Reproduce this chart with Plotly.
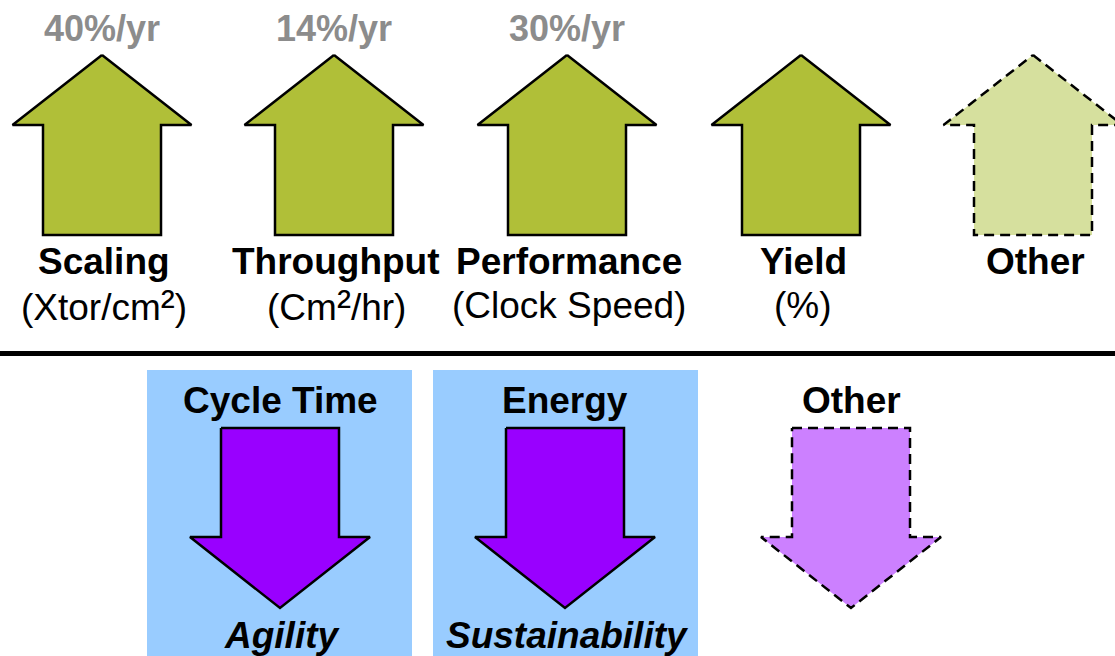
import plotly.graph_objects as go

# ---- content ----
SQ = "<span style='font-size:42px'>²</span>"
up_labels = ["Scaling", "Throughput", "Performance", "Yield", "Other"]
up_units = ["(Xtor/cm" + SQ + ")", "(Cm" + SQ + "/hr)", "(Clock Speed)", "(%)", ""]
up_rates = ["40%/yr", "14%/yr", "30%/yr", "", ""]
up_dashed = [False, False, False, False, True]
down_titles = ["Cycle Time", "Energy", "Other"]
down_goals = ["Agility", "Sustainability", ""]
down_dashed = [False, False, True]

# ---- layout geometry (pixels) ----
W, H = 1115, 656
up_cx = [102, 334, 567, 801, 1033]
down_cx = [280, 565, 851]
box_x = [(147, 412), (433, 698)]

FONT = "Liberation Sans, Arial, sans-serif"
GREEN = "#B0BF38"
LGREEN = "#D6E09E"
PURPLE = "#9900FF"
LPURPLE = "#CC80FF"
BLUE = "#99CCFF"
DASH = "10px,6px"
FS = 37

fig = go.Figure()

# blue boxes
for (x0, x1) in box_x:
    fig.add_shape(type="rect", x0=x0, x1=x1, y0=370, y1=H + 5, xref="x", yref="y",
                  fillcolor=BLUE, line=dict(width=0), layer="below")

# divider line
fig.add_shape(type="line", x0=0, x1=W, y0=353.5, y1=353.5, xref="x", yref="y",
              line=dict(color="black", width=5))


def up_arrow(cx, tip=55, base=125, bottom=235, hh=89.5, sh=59):
    xs = [cx, cx + hh, cx + sh, cx + sh, cx - sh, cx - sh, cx - hh, cx]
    ys = [tip, base, base, bottom, bottom, base, base, tip]
    return xs, ys


def down_arrow(cx, sh=59, hh=90, top=428, base=537, tip=608):
    xs = [cx - sh, cx + sh, cx + sh, cx + hh, cx, cx - hh, cx - sh, cx - sh]
    ys = [top, top, base, base, tip, base, base, top]
    return xs, ys


for i, cx in enumerate(up_cx):
    xs, ys = up_arrow(cx)
    dashed = up_dashed[i]
    fig.add_trace(go.Scatter(x=xs, y=ys, mode="lines", fill="toself",
                             fillcolor=LGREEN if dashed else GREEN,
                             line=dict(color="black", width=2.5,
                                       dash=DASH if dashed else "solid"),
                             hoverinfo="skip", showlegend=False))
    if up_rates[i]:
        fig.add_annotation(x=cx, y=28, text="<b>" + up_rates[i] + "</b>", showarrow=False,
                           font=dict(family=FONT, size=36, color="#8C8C8C"),
                           xanchor="center", yanchor="middle")
    fig.add_annotation(x=cx + 2, y=261, text="<b>" + up_labels[i] + "</b>", showarrow=False,
                       font=dict(family=FONT, size=FS, color="black"),
                       xanchor="center", yanchor="middle")
    if up_units[i]:
        fig.add_annotation(x=cx + 2, y=305, text=up_units[i], showarrow=False,
                           font=dict(family=FONT, size=FS, color="black"),
                           xanchor="center", yanchor="middle")

for i, cx in enumerate(down_cx):
    xs, ys = down_arrow(cx)
    dashed = down_dashed[i]
    fig.add_trace(go.Scatter(x=xs, y=ys, mode="lines", fill="toself",
                             fillcolor=LPURPLE if dashed else PURPLE,
                             line=dict(color="black", width=2.5,
                                       dash=DASH if dashed else "solid"),
                             hoverinfo="skip", showlegend=False))
    fig.add_annotation(x=cx, y=400, text="<b>" + down_titles[i] + "</b>", showarrow=False,
                       font=dict(family=FONT, size=FS, color="black"),
                       xanchor="center", yanchor="middle")
    if down_goals[i]:
        fig.add_annotation(x=cx + 2, y=635, text="<b><i>" + down_goals[i] + "</i></b>",
                           showarrow=False,
                           font=dict(family=FONT, size=FS, color="black"),
                           xanchor="center", yanchor="middle")

fig.update_layout(
    width=W, height=H,
    margin=dict(l=0, r=0, t=0, b=0),
    paper_bgcolor="white", plot_bgcolor="white",
    xaxis=dict(range=[0, W], visible=False, fixedrange=True),
    yaxis=dict(range=[H, 0], visible=False, fixedrange=True),
    showlegend=False,
)

fig.write_html("out.html", config={"displayModeBar": False},
               post_script="document.body.style.margin='0';document.body.style.padding='0';"
                           "document.body.style.overflow='hidden';")
